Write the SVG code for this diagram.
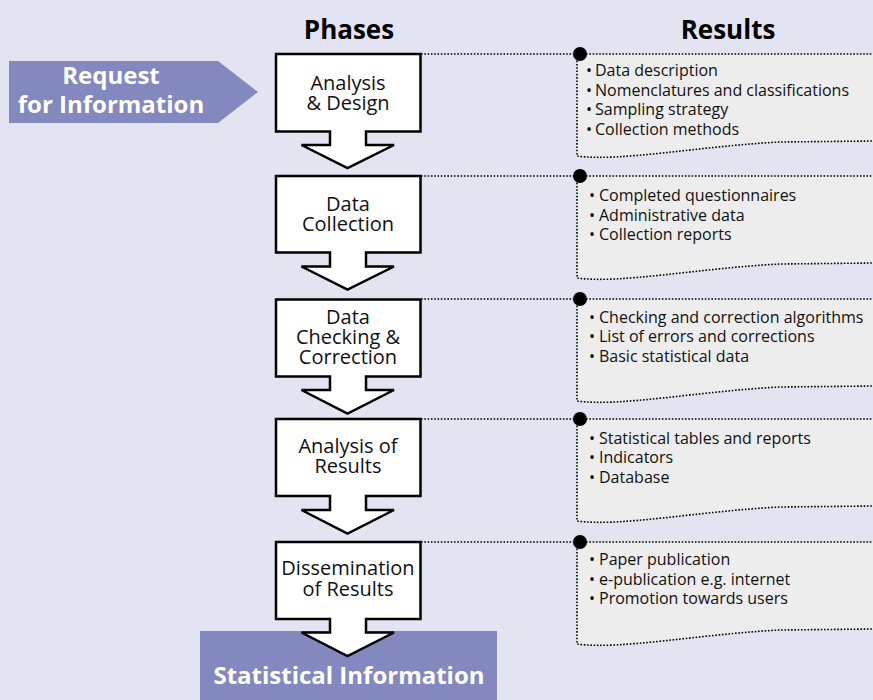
<svg xmlns="http://www.w3.org/2000/svg" width="873" height="700" viewBox="0 0 873 700">
<defs>
<style>
.bg{fill:#e2e4f2}
.phase{fill:#ffffff;stroke:#000;stroke-width:2.5;stroke-linejoin:miter}
.ptxt{font-family:"Open Sans","Noto Sans",sans-serif;font-size:20px;fill:#111;text-anchor:middle}
.title{font-family:"Open Sans","Noto Sans",sans-serif;font-size:26px;font-weight:bold;fill:#000;text-anchor:middle}
.band{fill:#8389bf}
.btxt{font-family:"Open Sans","Noto Sans",sans-serif;font-weight:bold;fill:#fff;text-anchor:middle}
.dot{fill:none;stroke:#000;stroke-width:1.6;stroke-dasharray:1.6 1.7}
.panel{fill:#ededed}
.rtxt{font-family:"Open Sans","Noto Sans",sans-serif;font-size:16px;fill:#111}
.knob{fill:#000}
</style>
</defs>
<rect class="bg" x="0" y="0" width="873" height="700"/>

<text class="title" x="349" y="39">Phases</text>
<text class="title" x="728" y="39">Results</text>

<g id="request">
<polygon class="band" points="9,61 218,61 258,92 218,123 9,123"/>
<text class="btxt" font-size="24"><tspan x="111" y="84">Request</tspan><tspan x="111" y="112.5">for Information</tspan></text>
</g>

<g id="statistical-information">
<rect class="band" x="200" y="631" width="297" height="69"/>
</g>

<g id="panels">
<g id="panel1">
<path class="panel" d="M577,54 L873,54 L873,141 L780,142 C700,146 620,162 577,156 Z"/>
<path class="dot" d="M577,54 L577,156 C620,162 700,146 780,142 L873,141"/>
<text class="rtxt"><tspan x="586" y="76">•</tspan><tspan x="595" y="76">Data description</tspan><tspan x="586" y="95.5">•</tspan><tspan x="595" y="95.5">Nomenclatures and classifications</tspan><tspan x="586" y="115">•</tspan><tspan x="595" y="115">Sampling strategy</tspan><tspan x="586" y="134.5">•</tspan><tspan x="595" y="134.5">Collection methods</tspan></text>
</g>
<g id="panel2">
<path class="panel" d="M577,176 L873,176 L873,263 L780,264 C700,268 620,284 577,278 Z"/>
<path class="dot" d="M577,176 L577,278 C620,284 700,268 780,264 L873,263"/>
<text class="rtxt"><tspan x="589" y="201">•</tspan><tspan x="599" y="201">Completed questionnaires</tspan><tspan x="589" y="220.5">•</tspan><tspan x="599" y="220.5">Administrative data</tspan><tspan x="589" y="240">•</tspan><tspan x="599" y="240">Collection reports</tspan></text>
</g>
<g id="panel3">
<path class="panel" d="M577,299 L873,299 L873,386 L780,387 C700,391 620,407 577,401 Z"/>
<path class="dot" d="M577,299 L577,401 C620,407 700,391 780,387 L873,386"/>
<text class="rtxt"><tspan x="589" y="322.5">•</tspan><tspan x="599" y="322.5">Checking and correction algorithms</tspan><tspan x="589" y="342">•</tspan><tspan x="599" y="342">List of errors and corrections</tspan><tspan x="589" y="361.5">•</tspan><tspan x="599" y="361.5">Basic statistical data</tspan></text>
</g>
<g id="panel4">
<path class="panel" d="M577,419 L873,419 L873,506 L780,507 C700,511 620,527 577,521 Z"/>
<path class="dot" d="M577,419 L577,521 C620,527 700,511 780,507 L873,506"/>
<text class="rtxt"><tspan x="589" y="443.5">•</tspan><tspan x="599" y="443.5">Statistical tables and reports</tspan><tspan x="589" y="463">•</tspan><tspan x="599" y="463">Indicators</tspan><tspan x="589" y="482.5">•</tspan><tspan x="599" y="482.5">Database</tspan></text>
</g>
<g id="panel5">
<path class="panel" d="M577,542 L873,542 L873,629 L780,630 C700,634 620,650 577,644 Z"/>
<path class="dot" d="M577,542 L577,644 C620,650 700,634 780,630 L873,629"/>
<text class="rtxt"><tspan x="589" y="565">•</tspan><tspan x="599" y="565">Paper publication</tspan><tspan x="589" y="584.5">•</tspan><tspan x="599" y="584.5">e-publication e.g. internet</tspan><tspan x="589" y="604">•</tspan><tspan x="599" y="604">Promotion towards users</tspan></text>
</g>
</g>

<g id="connectors">
<line class="dot" x1="421" y1="54" x2="873" y2="54"/>
<line class="dot" x1="421" y1="176" x2="873" y2="176"/>
<line class="dot" x1="421" y1="299" x2="873" y2="299"/>
<line class="dot" x1="421" y1="419" x2="873" y2="419"/>
<line class="dot" x1="421" y1="542" x2="873" y2="542"/>
<circle class="knob" cx="580" cy="54" r="7"/>
<circle class="knob" cx="580" cy="176" r="7"/>
<circle class="knob" cx="580" cy="299" r="7"/>
<circle class="knob" cx="580" cy="419" r="7"/>
<circle class="knob" cx="580" cy="542" r="7"/>
</g>

<g id="phase1">
<polygon class="phase" points="276,54 420.5,54 420.5,131.5 366,131.5 366,145 394,145 347.5,168 301.5,145 330,145 330,131.5 276,131.5"/>
<text class="ptxt"><tspan x="348" y="89.5">Analysis</tspan><tspan x="348" y="110">&amp; Design</tspan></text>
</g>
<g id="phase2">
<polygon class="phase" points="276,176 420.5,176 420.5,252.5 366,252.5 366,266.5 394,266.5 347.5,289.5 301.5,266.5 330,266.5 330,252.5 276,252.5"/>
<text class="ptxt"><tspan x="348" y="210.5">Data</tspan><tspan x="348" y="231">Collection</tspan></text>
</g>
<g id="phase3">
<polygon class="phase" points="276,299.5 420.5,299.5 420.5,376.5 366,376.5 366,390 394,390 347.5,413.5 301.5,390 330,390 330,376.5 276,376.5"/>
<text class="ptxt"><tspan x="348" y="323.5">Data</tspan><tspan x="348" y="343.5">Checking &amp;</tspan><tspan x="348" y="363.5">Correction</tspan></text>
</g>
<g id="phase4">
<polygon class="phase" points="276,419 420.5,419 420.5,496 366,496 366,510 394,510 347.5,533.5 301.5,510 330,510 330,496 276,496"/>
<text class="ptxt"><tspan x="348" y="452.5">Analysis of</tspan><tspan x="348" y="473">Results</tspan></text>
</g>
<g id="phase5">
<polygon class="phase" points="276,542 420.5,542 420.5,619 366,619 366,632.5 394,632.5 347.5,656 301.5,632.5 330,632.5 330,619 276,619"/>
<text class="ptxt"><tspan x="348" y="575">Dissemination</tspan><tspan x="348" y="596">of Results</tspan></text>
</g>

<text class="btxt" x="349" y="683.5" font-size="24">Statistical Information</text>
</svg>
